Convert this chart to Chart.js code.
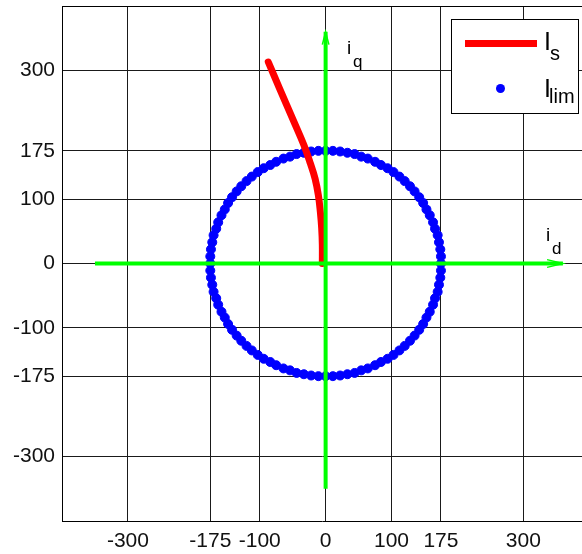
<!DOCTYPE html>
<html lang="en">
<head>
<meta charset="UTF-8">
<title>Is / Ilim</title>
<script src="https://cdn.jsdelivr.net/npm/chart.js"></script>
<style>
  html, body { margin: 0; padding: 0; background: #fff; }
  #wrap { position: relative; width: 582px; height: 554px; overflow: hidden; font-family: "Liberation Sans", Arial, sans-serif; color: #000; }
  #wrap canvas { position: absolute; left: 0; top: 0; }
  .t { position: absolute; line-height: 1; white-space: nowrap; }
  .big { font-size: 19px; }
  .sub { font-size: 17px; }
  #legend { position: absolute; left: 451px; top: 19px; width: 128px; height: 95px; box-sizing: border-box; border: 1px solid #000; background: #fff; }
  #legend .t { font-size: 25px; }
  #legend .s { font-size: 20px; }
  .swatch { position: absolute; left: 13px; top: 20px; width: 72px; height: 7px; background: #ff0000; }
  .dot { position: absolute; left: 44px; top: 64px; width: 9px; height: 9px; border-radius: 50%; background: #0000ff; }
</style>
</head>
<body>
<div id="wrap">
  <canvas id="myChart" width="582" height="554"></canvas>

  <!-- axis names -->
  <span class="t big" style="left:347px; top:38px;">i</span>
  <span class="t sub" style="left:353px; top:53px;">q</span>
  <span class="t big" style="left:546px; top:225px;">i</span>
  <span class="t sub" style="left:552px; top:240px;">d</span>

  <div id="legend">
    <div class="swatch"></div>
    <span class="t" style="left:92px; top:9px;">I</span>
    <span class="t s" style="left:98px; top:23px;">s</span>
    <div class="dot"></div>
    <span class="t" style="left:92px; top:56px;">I</span>
    <span class="t s" style="left:97px; top:66px;">lim</span>
  </div>
</div>

<script>
  // ticks
  const xTicks = [-300, -175, -100, 0, 100, 175, 300];
  const yTicks = [300, 175, 100, 0, -100, -175, -300];

  // current trajectory Is
  const isX = [-5, -5, -6, -8, -11, -16, -23, -33, -48, -70, -87];
  const isY = [0, 29, 55, 80, 106, 132, 155, 184, 220, 272, 313];

  // current limit circle Ilim, radius 175
  const limX = [
    175, 175, 174, 172, 170, 166, 163, 158, 153, 148, 142, 135, 128, 120, 112, 103, 94, 84, 75, 64, 54, 44, 33, 22, 11,
    0, -11, -22, -33, -44, -54, -64, -75, -84, -94, -103, -112, -120, -128, -135, -142, -148, -153, -158, -163, -166, -170, -172, -174, -175,
    -175, -175, -174, -172, -170, -166, -163, -158, -153, -148, -142, -135, -128, -120, -112, -103, -94, -84, -75, -64, -54, -44, -33, -22, -11,
    0, 11, 22, 33, 44, 54, 64, 75, 84, 94, 103, 112, 120, 128, 135, 142, 148, 153, 158, 163, 166, 170, 172, 174, 175
  ];
  const limY = [
    0, 11, 22, 33, 44, 54, 64, 75, 84, 94, 103, 112, 120, 128, 135, 142, 148, 153, 158, 163, 166, 170, 172, 174, 175,
    175, 175, 174, 172, 170, 166, 163, 158, 153, 148, 142, 135, 128, 120, 112, 103, 94, 84, 75, 64, 54, 44, 33, 22, 11,
    0, -11, -22, -33, -44, -54, -64, -75, -84, -94, -103, -112, -120, -128, -135, -142, -148, -153, -158, -163, -166, -170, -172, -174, -175,
    -175, -175, -174, -172, -170, -166, -163, -158, -153, -148, -142, -135, -128, -120, -112, -103, -94, -84, -75, -64, -54, -44, -33, -22, -11
  ];

  // green d / q axes with arrow heads
  const idAxisX = [-350, 360], idAxisY = [0, 0];
  const iqAxisX = [0, 0], iqAxisY = [-350, 360];
  const idHeadX = [336, 360, 336], idHeadY = [6, 0, -6];
  const iqHeadX = [-5, 0, 5], iqHeadY = [340, 360, 340];

  const pts = (xs, ys) => xs.map((x, i) => ({ x: x, y: ys[i] }));
  const FONT = '"Liberation Sans", Arial, sans-serif';
  const GREEN = '#00ff00';

  const frameTop = {
    id: 'frameTop',
    beforeDatasetsDraw(chart) {
      const { ctx, chartArea } = chart;
      ctx.save();
      ctx.strokeStyle = '#000';
      ctx.lineWidth = 1;
      ctx.beginPath();
      ctx.moveTo(chartArea.left, chartArea.top + 0.5);
      ctx.lineTo(chartArea.right, chartArea.top + 0.5);
      ctx.stroke();
      ctx.restore();
    }
  };

  const lineSet = (data, color, width, order) => ({
    data: data, showLine: true, borderColor: color, borderWidth: width,
    pointRadius: 0, fill: false, tension: 0, order: order
  });

  const ctx = document.getElementById('myChart');
  const myChart = new Chart(ctx, {
    type: 'scatter',
    data: {
      datasets: [
        lineSet(pts(idAxisX, idAxisY), GREEN, 4, 0),
        lineSet(pts(iqAxisX, iqAxisY), GREEN, 4, 0),
        lineSet(pts(idHeadX, idHeadY), GREEN, 1.5, 0),
        lineSet(pts(iqHeadX, iqHeadY), GREEN, 1.5, 0),
        Object.assign(lineSet(pts(isX, isY), '#ff0000', 7, 1), { tension: 0.4, borderCapStyle: 'round' }),
        {
          data: pts(limX, limY), showLine: false, order: 2,
          pointRadius: 4.5, pointBackgroundColor: '#0000ff', pointBorderColor: '#0000ff', pointBorderWidth: 1
        }
      ]
    },
    options: {
      responsive: false,
      animation: false,
      devicePixelRatio: 1,
      layout: { autoPadding: false, padding: { top: 6, left: 0, right: 0, bottom: 0 } },
      plugins: { legend: { display: false }, tooltip: { enabled: false } },
      scales: {
        x: {
          type: 'linear', min: -400, max: 389,
          afterBuildTicks: s => { s.ticks = xTicks.map(v => ({ value: v })); },
          afterFit: s => { s.height = 33; s.paddingLeft = 0; s.paddingRight = 0; },
          grid: { color: '#1a1a1a', lineWidth: 1, drawTicks: false },
          border: { color: '#000', width: 1 },
          ticks: { padding: 8, color: '#111', maxRotation: 0, autoSkip: false, font: { family: FONT, size: 21 } }
        },
        y: {
          type: 'linear', min: -400, max: 400,
          afterBuildTicks: s => { s.ticks = yTicks.map(v => ({ value: v })); },
          afterFit: s => { s.width = 62; s.paddingTop = 0; s.paddingBottom = 0; },
          grid: { color: '#1a1a1a', lineWidth: 1, drawTicks: false },
          border: { color: '#000', width: 1 },
          ticks: { padding: 7, color: '#111', autoSkip: false, font: { family: FONT, size: 21 } }
        }
      }
    },
    plugins: [frameTop]
  });
</script>
</body>
</html>
